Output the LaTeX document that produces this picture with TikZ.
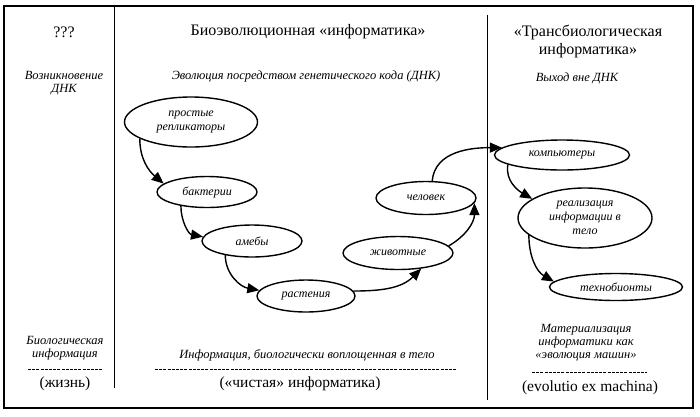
\documentclass[tikz,border=0pt]{standalone}
\usepackage{fontspec}
\setmainfont{Liberation Serif}
\usepackage{tikz}
\usetikzlibrary{shapes.geometric,arrows.meta}

\begin{document}
\begin{tikzpicture}[x=1pt,y=-1pt,line width=1.4pt,
        stage/.style = {ellipse, draw, inner sep=0pt,
            align=center, font=\fontsize{12}{14}\selectfont\itshape},
        evol/.style = {-{Triangle[length=12pt,width=10pt]}},
        head/.style = {align=center, font=\fontsize{16}{18}\selectfont},
        note/.style = {align=center, font=\fontsize{12.5}{13}\selectfont\itshape},
        result/.style = {font=\fontsize{15.5}{17}\selectfont},
        rule/.style = {line width=0.7pt, dash pattern=on 3pt off 1.2pt}]

        \useasboundingbox (0,0) rectangle (700,416);

        % Frame and columns
        \draw[line width=1.8pt] (4,6) rectangle (693,408);
        \draw[line width=0.8pt] (114,6) -- (114,388);
        \draw[line width=0.8pt] (487,15) -- (487,400);

        % Column heads
        \node[head] (h1) at (64,32) {???};
        \node[head] (h2) at (308,32) {Биоэволюционная «информатика»};
        \node[head] (h3) at (588,41) {«Трансбиологическая\\информатика»};

        \node[note] (n1) at (64,83) {Возникновение\\ДНК};
        \node[note] (n2) at (306,76) {Эволюция посредством генетического кода (ДНК)};
        \node[note] (n3) at (577,78) {Выход вне ДНК};

        % Stages
        \node[stage, minimum width=133pt, minimum height=50pt] (rep) at (191,122) {простые\\репликаторы};
        \node[stage, minimum width=100pt, minimum height=31pt] (bak) at (207,192) {бактерии};
        \node[stage, minimum width=100pt, minimum height=32pt] (ameb) at (252,241) {амебы};
        \node[stage, minimum width=98pt, minimum height=32pt] (rast) at (306,296) {растения};
        \node[stage, minimum width=110pt, minimum height=33pt] (zhiv) at (398,253) {животные};
        \node[stage, minimum width=100pt, minimum height=33pt] (chel) at (426,198) {человек};
        \node[stage, minimum width=135pt, minimum height=30pt] (comp) at (562,155) {компьютеры};
        \node[stage, minimum width=134pt, minimum height=60pt] (real) at (585,218) {реализация\\информации в\\тело};
        \node[stage, minimum width=133pt, minimum height=27pt] (tech) at (616,287) {технобионты};

        % Evolution arrows
        \draw[evol] (rep.198) to[out=-90,in=140] (bak.169);
        \draw[evol] (bak.208) to[out=-90,in=170] (ameb.175);
        \draw[evol] (ameb.208) to[out=-90,in=170] (rast.173);
        \draw[evol] (rast.6) to[out=0,in=225] (zhiv.326);
        \draw[evol] (zhiv.8) to[out=30,in=-90] (chel.354);
        \draw[evol] (chel.70) to[out=85,in=180] (comp.173);
        \draw[evol] (comp.190) to[out=-100,in=150] (real.160);
        \draw[evol] (real.197) to[out=-90,in=150] (tech.175);

        % Bottom notes
        \node[note] (b1) at (65,348) {Биологическая\\информация};
        \node[note] (b2) at (307,355) {Информация, биологически воплощенная в тело};
        \node[note] (b3) at (586,343) {Материализация\\информатики как\\«эволюция машин»};

        \draw[rule] (28,369) -- (102,369);
        \draw[rule] (155,369) -- (457,369);
        \draw[rule] (532,372) -- (647,372);

        \node[result] (r1) at (65,384) {(жизнь)};
        \node[result] (r2) at (300,384) {(«чистая» информатика)};
        \node[result] (r3) at (590,388) {(evolutio ex machina)};
    \end{tikzpicture}
\end{document}
